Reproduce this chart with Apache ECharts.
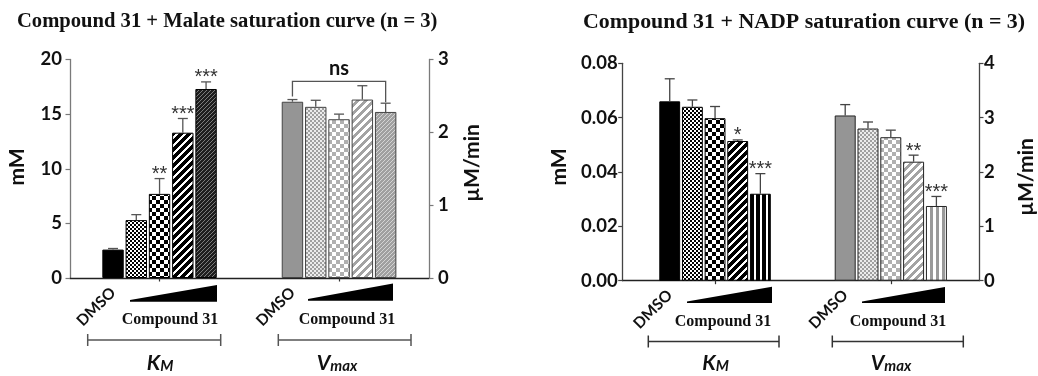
<!DOCTYPE html>
<html>
<head>
<meta charset="utf-8">
<script src="https://cdn.jsdelivr.net/npm/echarts@6/dist/echarts.min.js"></script>
<style>
  html, body { margin: 0; padding: 0; background: #fff; }
  #chart { width: 1038px; height: 376px; }
</style>
</head>
<body>
<div id="chart"></div>
<script>
// Treatment order inside every group: vehicle, then rising Compound 31 dose
const doseCategories = ['DMSO', 'C31 dose 1', 'C31 dose 2', 'C31 dose 3', 'C31 dose 4'];

// Malate saturation curve: K_M (mM) and Vmax (µM/min), mean and SEM
const malateKmMean = [2.6, 5.3, 7.7, 13.3, 17.3];
const malateKmErr = [0.1, 0.5, 1.4, 1.3, 0.65];
const malateKmSig = ['', '', '**', '***', '***'];
const malateVmaxMean = [2.42, 2.35, 2.18, 2.45, 2.28];
const malateVmaxErr = [0.03, 0.09, 0.07, 0.19, 0.12];
const malateVmaxSig = ['', '', '', '', ''];
const malateVmaxBracket = ['ns', 0, 4, 2.70];   // label, first bar, last bar, level

// NADP saturation curve
const nadpKmMean = [0.066, 0.064, 0.0598, 0.0514, 0.032];
const nadpKmErr = [0.0083, 0.0025, 0.0043, 0.0004, 0.0074];
const nadpKmSig = ['', '', '', '*', '***'];
const nadpVmaxMean = [3.04, 2.80, 2.64, 2.19, 1.375];
const nadpVmaxErr = [0.20, 0.12, 0.13, 0.12, 0.175];
const nadpVmaxSig = ['', '', '', '**', '***'];

// Axis ticks
const malateKmTicks = [0, 5, 10, 15, 20];
const malateVmaxTicks = [0, 1, 2, 3];
const nadpKmTicks = [0, 0.02, 0.04, 0.06, 0.08];
const nadpVmaxTicks = [0, 1, 2, 3, 4];

// ---------- fill patterns ----------
function pat(w, h, test, fg, bg) {
  const c = document.createElement('canvas');
  c.width = w; c.height = h;
  const ctx = c.getContext('2d');
  for (let y = 0; y < h; y++) {
    for (let x = 0; x < w; x++) {
      ctx.fillStyle = test(x, y) ? fg : bg;
      ctx.fillRect(x, y, 1, 1);
    }
  }
  return { image: c, repeat: 'repeat' };
}
const fineCheck = (x, y) => ((x >> 1) + (y >> 1)) & 1;
const bigCheck = (x, y) => ((x >> 2) + (y >> 2)) & 1;

const kmFills = {
  solid: '#000',
  fine: pat(4, 4, fineCheck, '#000', '#fff'),
  check: pat(8, 8, bigCheck, '#000', '#fff'),
  diag: pat(8, 8, (x, y) => (x + y) % 8 < 5, '#000', '#fff'),
  hatch: pat(4, 4, (x, y) => (x + y) % 4 !== 0, '#1e1e1e', '#7c7c7c'),
  vstripe: pat(6, 1, (x) => x % 6 < 4, '#000', '#fff')
};
const vmaxFills = {
  solid: '#959595',
  fine: pat(4, 4, fineCheck, '#a0a0a0', '#ececec'),
  check: pat(8, 8, bigCheck, '#b0b0b0', '#fff'),
  diag: pat(8, 8, (x, y) => (x + y) % 8 < 4, '#a3a3a3', '#fff'),
  hatch: pat(4, 4, (x, y) => (x + y) % 4 !== 0, '#a0a0a0', '#d4d4d4'),
  vstripe: pat(6, 1, (x) => x % 6 < 3, '#9a9a9a', '#fff')
};
const malateOrder = ['solid', 'fine', 'check', 'diag', 'hatch'];
const nadpOrder = ['solid', 'fine', 'check', 'diag', 'vstripe'];

// ---------- helpers ----------
const LABEL_FONT = { fontFamily: 'Lato', fontWeight: 'bold', fontSize: 18.5, color: '#111' };

function valueAxis(gridIndex, ticks, opts) {
  const base = {
    type: 'value', gridIndex,
    min: ticks[0], max: ticks[ticks.length - 1], interval: ticks[1] - ticks[0],
    splitLine: { show: false }
  };
  return Object.assign(base, opts);
}
function shownAxis(gridIndex, ticks, position, color, margin, fmt) {
  return valueAxis(gridIndex, ticks, {
    position,
    axisLine: { show: true, lineStyle: { color, width: 1.3 } },
    axisTick: { show: true, length: 4.5, lineStyle: { color, width: 1.2 } },
    axisLabel: Object.assign({ margin, formatter: fmt }, LABEL_FONT)
  });
}
function hiddenAxis(gridIndex, ticks) {
  return valueAxis(gridIndex, ticks, { show: false });
}
function frameX(gridIndex) {
  return {
    type: 'category', gridIndex, data: [''],
    axisLine: { show: true, lineStyle: { color: '#222', width: 1.3 } },
    axisTick: { show: false }, axisLabel: { show: false }
  };
}
function groupX(gridIndex) {
  return {
    type: 'category', gridIndex, data: doseCategories,
    axisLine: { show: false },
    axisTick: { show: true, alignWithLabel: true, length: 3.5, interval: (i) => i === 2,
                lineStyle: { color: '#333', width: 1.2 } },
    axisLabel: {
      interval: 0, rotate: 45, margin: 12,
      fontFamily: 'Lato', fontWeight: 'bold', fontSize: 15.5, color: '#111',
      formatter: (v, i) => (i === 0 ? v : '')
    }
  };
}
function bars(xi, yi, means, fills, order, border) {
  return {
    type: 'bar', xAxisIndex: xi, yAxisIndex: yi, barWidth: '92%', silent: true,
    data: means.map((v, i) => ({
      value: v,
      itemStyle: { color: fills[order[i]], borderColor: border, borderWidth: 1 }
    }))
  };
}
function errors(xi, yi, means, errs, sig, color) {
  return {
    type: 'custom', xAxisIndex: xi, yAxisIndex: yi, z: 5, silent: true,
    data: means.map((m, i) => [i, m, errs[i]]),
    renderItem(params, api) {
      const i = api.value(0), m = api.value(1), e = api.value(2);
      const base = api.coord([i, m]);
      const top = api.coord([i, m + e]);
      const style = { stroke: color, lineWidth: 1.3 };
      const kids = [
        { type: 'line', shape: { x1: base[0], y1: base[1], x2: top[0], y2: top[1] }, style },
        { type: 'line', shape: { x1: top[0] - 5, y1: top[1], x2: top[0] + 5, y2: top[1] }, style }
      ];
      const s = sig[params.dataIndex];
      if (s) {
        kids.push({
          type: 'text', x: top[0], y: top[1] - 4,
          style: { text: s, font: '20px "Liberation Sans"', fill: '#333',
                   textAlign: 'center', textVerticalAlign: 'middle' }
        });
      }
      return { type: 'group', children: kids };
    }
  };
}
function bracket(xi, yi, spec, means, errs) {
  const [label, a, b, level] = spec;
  return {
    type: 'custom', xAxisIndex: xi, yAxisIndex: yi, z: 5, silent: true,
    data: [[a, b, level]],
    renderItem(params, api) {
      const left = api.coord([a, level]);
      const right = api.coord([b, level]);
      const lEnd = api.coord([a, means[a] + errs[a]])[1] - 3;
      const rEnd = api.coord([b, means[b] + errs[b]])[1] - 1;
      const style = { stroke: '#555', lineWidth: 1.3, fill: null };
      return {
        type: 'group',
        children: [
          { type: 'polyline', shape: { points: [[left[0], lEnd], left, right, [right[0], rEnd]] }, style },
          { type: 'text', x: (left[0] + right[0]) / 2, y: left[1] - 13,
            style: { text: label, font: 'bold 20px Lato', fill: '#111',
                     textAlign: 'center', textVerticalAlign: 'middle' } }
        ]
      };
    }
  };
}

// ---------- decorations below the axis ----------
const serif = 'bold 16px "Liberation Serif"';
function wedge(x0, x1, yTop, yBot) {
  return { type: 'polygon', silent: true,
    shape: { points: [[x0, yBot - 1.6], [x1, yTop], [x1, yBot], [x0, yBot]] },
    style: { fill: '#000' } };
}
function span(x0, x1, y, color) {
  return { type: 'group', silent: true, children: [
    { type: 'line', shape: { x1: x0, y1: y, x2: x1, y2: y }, style: { stroke: color, lineWidth: 1.3 } },
    { type: 'line', shape: { x1: x0, y1: y - 6, x2: x0, y2: y + 6 }, style: { stroke: color, lineWidth: 1.5 } },
    { type: 'line', shape: { x1: x1, y1: y - 6, x2: x1, y2: y + 6 }, style: { stroke: color, lineWidth: 1.5 } }
  ] };
}
function text(x, y, str, font, rot) {
  return { type: 'text', silent: true, x, y, rotation: rot || 0,
    style: { text: str, font, fill: '#111', textAlign: 'center', textVerticalAlign: 'middle' } };
}
function sub(x, y, main, low) {
  return { type: 'text', silent: true, x, y,
    style: {
      text: '{k|' + main + '}{s|' + low + '}',
      textAlign: 'center', textVerticalAlign: 'middle',
      rich: {
        k: { font: 'italic bold 21px Lato', fill: '#111' },
        s: { font: 'italic bold 15px Lato', fill: '#111', verticalAlign: 'bottom', lineHeight: 12 }
      }
    } };
}

const option = {
  animation: false,
  backgroundColor: '#fff',
  title: [
    { text: 'Compound 31 + Malate saturation curve (n = 3)', left: 17, top: 11, padding: 0,
      textStyle: { fontFamily: 'Liberation Serif', fontWeight: 'bold', fontSize: 20.6, color: '#111' } },
    { text: 'Compound 31 + NADP saturation curve (n = 3)', left: 583, top: 11, padding: 0,
      textStyle: { fontFamily: 'Liberation Serif', fontWeight: 'bold', fontSize: 21.9, color: '#111' } }
  ],
  grid: [
    { left: 70, right: 609, top: 59.5, bottom: 98, outerBoundsMode: 'none' },
    { left: 101.4, width: 116.3, top: 59.5, bottom: 98, outerBoundsMode: 'none' },
    { left: 280.8, width: 116.5, top: 59.5, bottom: 98, outerBoundsMode: 'none' },
    { left: 622.7, right: 59, top: 63.3, bottom: 95.3, outerBoundsMode: 'none' },
    { left: 658.4, width: 113.3, top: 63.3, bottom: 95.3, outerBoundsMode: 'none' },
    { left: 833.8, width: 114, top: 63.3, bottom: 95.3, outerBoundsMode: 'none' }
  ],
  xAxis: [frameX(0), groupX(1), groupX(2), frameX(3), groupX(4), groupX(5)],
  yAxis: [
    shownAxis(0, malateKmTicks, 'left', '#7a7a7a', 8),
    shownAxis(0, malateVmaxTicks, 'right', '#7a7a7a', 9),
    hiddenAxis(1, malateKmTicks),
    hiddenAxis(2, malateVmaxTicks),
    shownAxis(3, nadpKmTicks, 'left', '#444', 5, (v) => v.toFixed(2)),
    shownAxis(3, nadpVmaxTicks, 'right', '#444', 5),
    hiddenAxis(4, nadpKmTicks),
    hiddenAxis(5, nadpVmaxTicks)
  ],
  series: [
    bars(1, 2, malateKmMean, kmFills, malateOrder, '#000'),
    errors(1, 2, malateKmMean, malateKmErr, malateKmSig, '#555'),
    bars(2, 3, malateVmaxMean, vmaxFills, malateOrder, '#444'),
    errors(2, 3, malateVmaxMean, malateVmaxErr, malateVmaxSig, '#555'),
    bracket(2, 3, malateVmaxBracket, malateVmaxMean, malateVmaxErr),
    bars(4, 6, nadpKmMean, kmFills, nadpOrder, '#000'),
    errors(4, 6, nadpKmMean, nadpKmErr, nadpKmSig, '#444'),
    bars(5, 7, nadpVmaxMean, vmaxFills, nadpOrder, '#222'),
    errors(5, 7, nadpVmaxMean, nadpVmaxErr, nadpVmaxSig, '#444')
  ],
  graphic: [
    text(17.5, 167, 'mM', 'bold 21px Lato', Math.PI / 2),
    text(472.5, 163, 'µM/min', 'bold 21px Lato', Math.PI / 2),
    text(559, 167, 'mM', 'bold 21px Lato', Math.PI / 2),
    text(1026, 177, 'µM/min', 'bold 21px Lato', Math.PI / 2),

    wedge(130, 217, 285, 301.7),
    wedge(308, 393, 283.5, 300.7),
    wedge(687, 772, 286.7, 303),
    wedge(862, 945, 287, 303),

    text(170, 320, 'Compound 31', serif),
    text(347, 320, 'Compound 31', serif),
    text(723, 322, 'Compound 31', serif),
    text(898, 322, 'Compound 31', serif),

    span(87.7, 220.7, 340, '#555'),
    span(278.3, 411, 340, '#555'),
    span(648.3, 779, 341.5, '#333'),
    span(832.3, 963.3, 341.5, '#333'),

    sub(160, 363, 'K', 'M'),
    sub(337, 363, 'V', 'max'),
    sub(715.5, 363, 'K', 'M'),
    sub(891, 363, 'V', 'max')
  ]
};

const chart = echarts.init(document.getElementById('chart'), null, { renderer: 'canvas' });
chart.setOption(option);
</script>
</body>
</html>
